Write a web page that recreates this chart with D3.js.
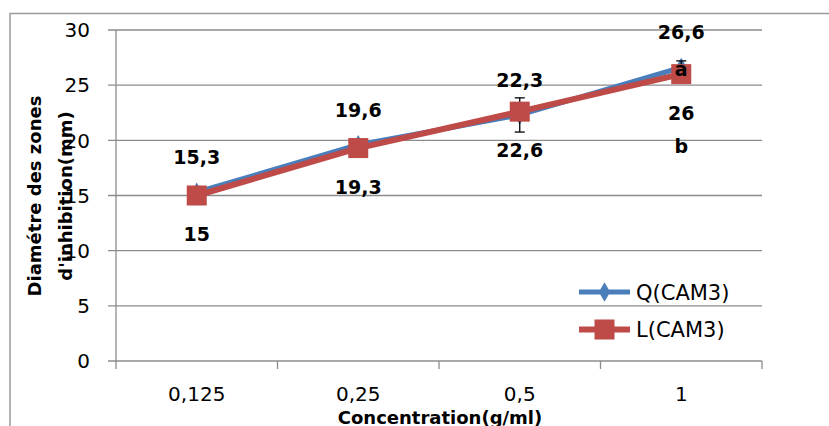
<!DOCTYPE html>
<html>
<head>
<meta charset="utf-8">
<script src="https://cdn.jsdelivr.net/npm/d3@7"></script>
<style>
  html, body { margin: 0; padding: 0; background: #fff; }
  svg { display: block; }
  text { font-family: "DejaVu Sans", sans-serif; }
</style>
</head>
<body>
<svg id="chart" width="829" height="426"></svg>
<script>
// ---- data ----
const categories = ["0,125", "0,25", "0,5", "1"];
const seriesNames = ["Q(CAM3)", "L(CAM3)"];
const qValues = [15.3, 19.6, 22.3, 26.6];
const lValues = [15, 19.3, 22.6, 26];
const qLabels = ["15,3", "19,6", "22,3", "26,6"];
const lLabels = ["15", "19,3", "22,6", "26"];
const qErrors = [0, 0, 1.55, 0.6];
const yTicks = [0, 5, 10, 15, 20, 25, 30];
const letterNotes = [{cat: "1", text: "a", series: "Q"}, {cat: "1", text: "b", series: "L"}];
const xTitle = "Concentration(g/ml)";
const yTitleLines = ["Diamétre des zones", "d'inhibition(mm)"];

// ---- layout ----
const svg = d3.select("#chart");
const pLeft = 116, pRight = 762, pTop = 30, pBottom = 361;
const blue = "#4A7EBB", red = "#BE4B48", grid = "#8C8C8C";

const x = d3.scaleBand().domain(categories).range([pLeft, pRight]).padding(0);
const cx = c => x(c) + x.bandwidth() / 2;
const y = d3.scaleLinear().domain([0, 30]).range([pBottom, pTop]);

// outer border (top & left visible)
svg.append("path").attr("d", `M10,426 L10,13.5 L829,13.5`)
  .attr("fill", "none").attr("stroke", "#9A9A9A").attr("stroke-width", 1.5);

// gridlines
svg.append("g").selectAll("line").data(yTicks).join("line")
  .attr("x1", pLeft - 8).attr("x2", pRight)
  .attr("y1", d => y(d)).attr("y2", d => y(d))
  .attr("stroke", grid).attr("stroke-width", 1.3);

// y axis line
svg.append("line").attr("x1", pLeft).attr("x2", pLeft).attr("y1", pTop).attr("y2", pBottom + 1)
  .attr("stroke", grid).attr("stroke-width", 1.3);

// x ticks at band boundaries
const bounds = categories.map(c => x(c)).concat([pRight]);
svg.append("g").selectAll("line").data(bounds).join("line")
  .attr("x1", d => d).attr("x2", d => d).attr("y1", pBottom).attr("y2", pBottom + 8)
  .attr("stroke", grid).attr("stroke-width", 1.3);

// y tick labels
svg.append("g").selectAll("text").data(yTicks).join("text")
  .attr("x", 90).attr("y", d => y(d)).attr("dy", "0.36em")
  .attr("text-anchor", "end").attr("font-size", 20).attr("fill", "#000")
  .text(d => d);

// x tick labels
svg.append("g").selectAll("text").data(categories).join("text")
  .attr("x", d => cx(d)).attr("y", 401)
  .attr("text-anchor", "middle").attr("font-size", 20).attr("fill", "#000")
  .text(d => d);

// axis titles
svg.append("text").attr("x", 440).attr("y", 423.5).attr("text-anchor", "middle")
  .attr("font-size", 18).attr("font-weight", "bold").text(xTitle);
const yt = svg.append("g").attr("transform", "rotate(-90)");
yTitleLines.forEach((t, i) => {
  yt.append("text").attr("x", -196).attr("y", 41 + i * 31).attr("text-anchor", "middle")
    .attr("font-size", 18).attr("font-weight", "bold").text(t);
});

const line = d3.line().x((d, i) => cx(categories[i])).y(d => y(d));

// Q series
svg.append("path").datum(qValues).attr("d", line)
  .attr("fill", "none").attr("stroke", blue).attr("stroke-width", 5).attr("stroke-linejoin", "round");
const diamond = d3.symbol().type(d3.symbolDiamond).size(110);
svg.append("g").selectAll("path").data(qValues).join("path")
  .attr("transform", (d, i) => `translate(${cx(categories[i])},${y(d)})`)
  .attr("d", diamond).attr("fill", blue);

// error bars (Q)
const eb = svg.append("g").attr("stroke", "#000").attr("stroke-width", 1.3);
qValues.forEach((v, i) => {
  const e = qErrors[i];
  if (!e) return;
  const xc = cx(categories[i]);
  eb.append("line").attr("x1", xc).attr("x2", xc).attr("y1", y(v + e)).attr("y2", y(v - e));
  eb.append("line").attr("x1", xc - 5).attr("x2", xc + 5).attr("y1", y(v + e)).attr("y2", y(v + e));
  eb.append("line").attr("x1", xc - 5).attr("x2", xc + 5).attr("y1", y(v - e)).attr("y2", y(v - e));
});

// L series
svg.append("path").datum(lValues).attr("d", line)
  .attr("fill", "none").attr("stroke", red).attr("stroke-width", 6).attr("stroke-linejoin", "round");
svg.append("g").selectAll("rect").data(lValues).join("rect")
  .attr("x", (d, i) => cx(categories[i]) - 10).attr("y", d => y(d) - 10)
  .attr("width", 20).attr("height", 20).attr("fill", red);

// data labels
svg.append("g").selectAll("text").data(qValues).join("text")
  .attr("x", (d, i) => cx(categories[i])).attr("y", d => y(d) - 35).attr("dy", "0.36em")
  .attr("text-anchor", "middle").attr("font-size", 19).attr("font-weight", "bold")
  .text((d, i) => qLabels[i]);
svg.append("g").selectAll("text").data(lValues).join("text")
  .attr("x", (d, i) => cx(categories[i])).attr("y", d => y(d) + 39).attr("dy", "0.36em")
  .attr("text-anchor", "middle").attr("font-size", 19).attr("font-weight", "bold")
  .text((d, i) => lLabels[i]);

// letters
letterNotes.forEach(n => {
  const i = categories.indexOf(n.cat);
  const yy = n.series === "Q" ? y(qValues[i]) + 2 : y(lValues[i]) + 72;
  svg.append("text").attr("x", cx(n.cat)).attr("y", yy).attr("dy", "0.36em")
    .attr("text-anchor", "middle").attr("font-size", 19).attr("font-weight", "bold").text(n.text);
});

// legend
const leg = svg.append("g");
const legY = [292, 329.5];
seriesNames.forEach((name, i) => {
  const col = i === 0 ? blue : red;
  leg.append("line").attr("x1", 579).attr("x2", 630).attr("y1", legY[i]).attr("y2", legY[i])
    .attr("stroke", col).attr("stroke-width", i === 0 ? 5 : 6);
  if (i === 0) {
    leg.append("path").attr("transform", `translate(604.5,${legY[i]})`).attr("d", diamond).attr("fill", blue);
  } else {
    leg.append("rect").attr("x", 594.5).attr("y", legY[i] - 10).attr("width", 20).attr("height", 20).attr("fill", red);
  }
  leg.append("text").attr("x", 636).attr("y", legY[i]).attr("dy", "0.36em")
    .attr("font-size", 21).text(name);
});
</script>
</body>
</html>
